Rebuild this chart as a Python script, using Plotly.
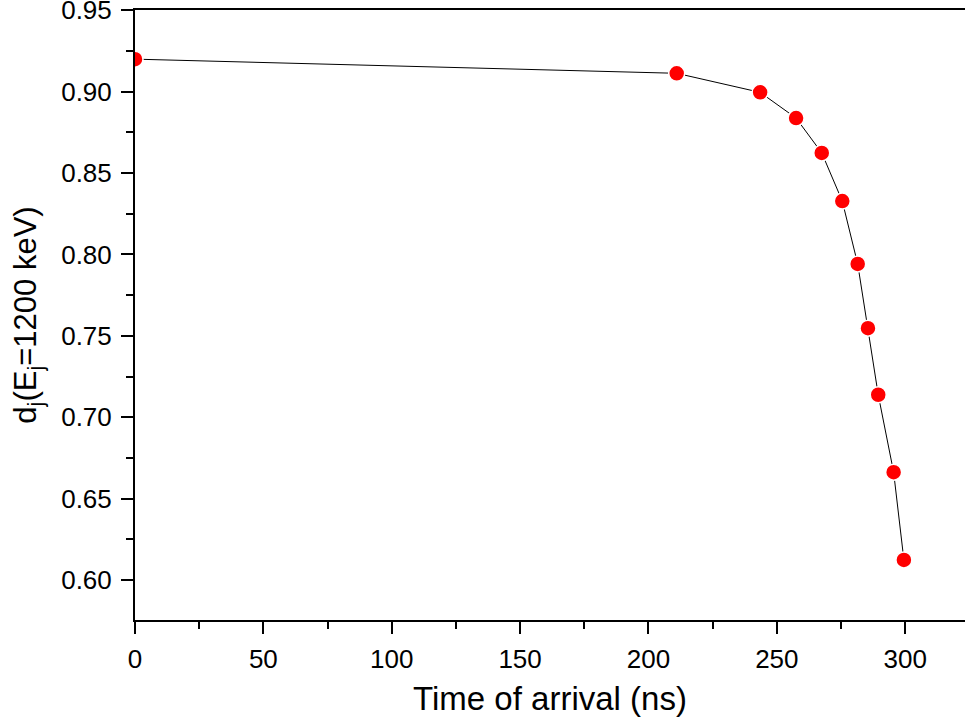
import plotly.graph_objects as go

time_ns = [0, 211, 243.5, 257.5, 267.5, 275.5, 281.5, 285.5, 289.5, 295.5, 299.5]
d_values = [0.920, 0.9113, 0.8996, 0.8838, 0.8624, 0.8328, 0.7942, 0.7547, 0.7138, 0.6662, 0.6123]

x_tickvals = [0, 50, 100, 150, 200, 250, 300]
y_tickvals = [0.60, 0.65, 0.70, 0.75, 0.80, 0.85, 0.90, 0.95]

fig = go.Figure()
fig.add_trace(go.Scatter(
    x=time_ns, y=d_values, mode="lines+markers",
    line=dict(color="black", width=1),
    marker=dict(color="#ff0000", size=16, line=dict(color="white", width=1.5)),
    showlegend=False,
))

font_family = "Liberation Sans, Arial, sans-serif"
fig.update_layout(
    width=965, height=727,
    margin=dict(l=135, r=0, t=10, b=107),
    paper_bgcolor="white", plot_bgcolor="white",
    font=dict(family=font_family, color="black"),
)
fig.update_xaxes(
    range=[0, 323.3], tickvals=x_tickvals, ticks="outside", ticklen=12, tickwidth=2,
    tickcolor="black", showline=True, linewidth=2, linecolor="black", mirror=True,
    showgrid=False, zeroline=False, tickfont=dict(size=26), automargin=False,
    ticklabelstandoff=3, ticklabeloverflow="allow",
    minor=dict(dtick=25, tick0=0, ticks="outside", ticklen=7, tickwidth=2, tickcolor="black", showgrid=False),
    title=dict(text="Time of arrival (ns)", font=dict(size=33), standoff=14),
)
fig.update_yaxes(
    range=[0.5754, 0.9502], tickvals=y_tickvals, tickformat=".2f", ticks="outside", ticklen=12, tickwidth=2,
    tickcolor="black", showline=True, linewidth=2, linecolor="black", mirror=False,
    showgrid=False, zeroline=False, tickfont=dict(size=26), automargin=False,
    ticklabelstandoff=4, ticklabeloverflow="allow",
    minor=dict(dtick=0.025, tick0=0, ticks="outside", ticklen=7, tickwidth=2, tickcolor="black", showgrid=False),
    title=dict(text="d<sub>j</sub>(E<sub>j</sub>=1200 keV)", font=dict(size=31), standoff=15),
)

fig.write_html(
    "out.html",
    config={"displayModeBar": False},
    post_script="document.body.style.margin='0px';document.body.style.overflow='hidden';",
)
